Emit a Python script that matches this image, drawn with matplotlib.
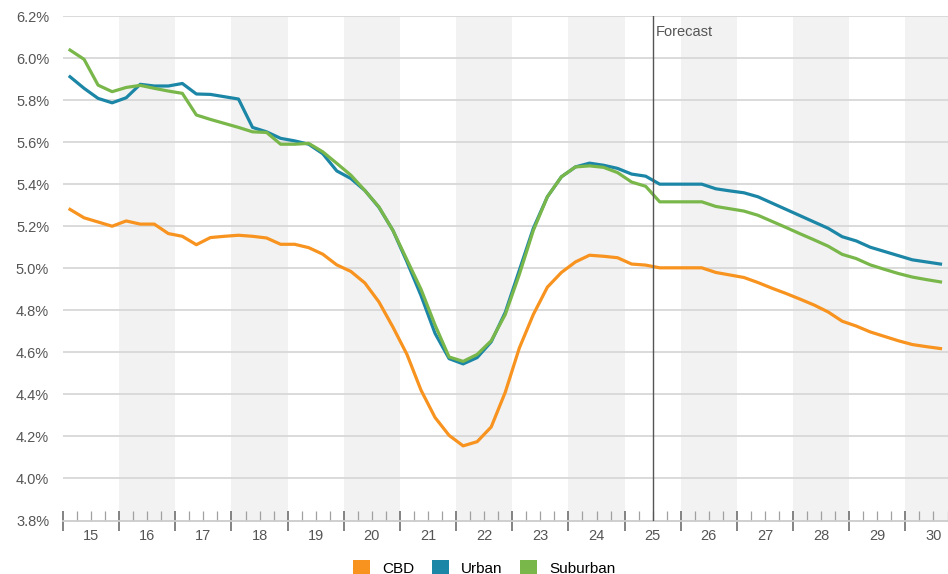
import numpy as np
import matplotlib
matplotlib.use("Agg")
import matplotlib.pyplot as plt
import matplotlib.transforms as mtransforms
from matplotlib.patches import Patch

plt.rcParams['font.family'] = ['Liberation Sans', 'DejaVu Sans']

# quarterly vacancy-type rates (%), 2015Q1 .. 2030Q3
cbd = [5.28, 5.24, 5.22, 5.20, 5.225, 5.21, 5.21, 5.165, 5.152, 5.112, 5.146, 5.152, 5.157, 5.152, 5.144, 5.114,
       5.114, 5.098, 5.067, 5.016, 4.985, 4.93, 4.84, 4.72, 4.59, 4.42, 4.29, 4.205, 4.155, 4.175, 4.245, 4.41,
       4.62, 4.78, 4.91, 4.98, 5.03, 5.062, 5.057, 5.05, 5.02, 5.015, 5.002, 5.002, 5.002, 5.002, 4.98, 4.968,
       4.956, 4.932, 4.905, 4.88, 4.853, 4.825, 4.792, 4.748, 4.725, 4.697, 4.676, 4.655, 4.637, 4.627, 4.618]
urban = [5.911, 5.856, 5.808, 5.787, 5.811, 5.875, 5.867, 5.867, 5.879, 5.829, 5.827, 5.816, 5.805, 5.670, 5.649, 5.618,
         5.606, 5.59, 5.545, 5.463, 5.427, 5.37, 5.29, 5.18, 5.03, 4.87, 4.69, 4.57, 4.545, 4.575, 4.65, 4.79,
         4.99, 5.19, 5.34, 5.435, 5.482, 5.50, 5.49, 5.475, 5.448, 5.438, 5.40, 5.40, 5.40, 5.40, 5.378, 5.368,
         5.359, 5.34, 5.31, 5.28, 5.25, 5.22, 5.19, 5.15, 5.13, 5.10, 5.08, 5.06, 5.04, 5.03, 5.02]
suburban = [6.038, 5.994, 5.871, 5.84, 5.86, 5.87, 5.856, 5.843, 5.832, 5.729, 5.708, 5.689, 5.67, 5.649, 5.646, 5.59,
            5.59, 5.594, 5.554, 5.499, 5.443, 5.37, 5.292, 5.18, 5.04, 4.90, 4.73, 4.578, 4.557, 4.59, 4.655, 4.78,
            4.97, 5.18, 5.34, 5.435, 5.482, 5.487, 5.48, 5.455, 5.41, 5.39, 5.316, 5.316, 5.316, 5.316, 5.294, 5.283,
            5.272, 5.252, 5.223, 5.194, 5.164, 5.135, 5.105, 5.066, 5.046, 5.016, 4.995, 4.975, 4.958, 4.946, 4.935]
years = list(range(2015, 2031))
year_labels = [str(y)[2:] for y in years]
forecast_start = 2025.5

x = 2015 + (np.arange(len(cbd)) + 0.5) / 4

fig = plt.figure(figsize=(9.48, 5.74), dpi=100)
ax = fig.add_axes([63 / 948, 53.5 / 574, 884.5 / 948, 504.5 / 574])

xmin, xmax = 2015, 2030.75
ax.set_xlim(xmin, xmax)
ax.set_ylim(3.8, 6.2)

# alternating year bands
for y in years[1::2]:
    ax.axvspan(y, y + 1, color='#f2f2f2', lw=0, zorder=0)

yt = np.round(np.arange(3.8, 6.21, 0.2), 1)
for v in yt[1:]:
    ax.axhline(v, color='#d8d8d8', lw=1.3, zorder=1)

ax.plot(x, cbd, color='#f7931e', lw=2.3, zorder=3, solid_joinstyle='round')
ax.plot(x, urban, color='#1c86a6', lw=2.3, zorder=4, solid_joinstyle='round')
ax.plot(x, suburban, color='#79b74b', lw=2.3, zorder=5, solid_joinstyle='round')

ax.axvline(forecast_start, color='#555555', lw=1.0, zorder=6)
ax.text(forecast_start + 0.05, 6.125, 'Forecast', fontsize=10.5, color='#555555', va='center', ha='left')

for s in ['top', 'right', 'left']:
    ax.spines[s].set_visible(False)
ax.spines['bottom'].set_color('#cccccc')
ax.spines['bottom'].set_linewidth(1.3)

ax.set_yticks(yt)
ax.set_yticklabels([f'{v:.1f}%' for v in yt], fontsize=10.5, color='#555555')
ax.tick_params(axis='y', length=0, pad=10)

ax.set_xticks(years)
ax.set_xticklabels([])
ax.set_xticks(np.arange(2015, 2030.76, 0.25), minor=True)
ax.tick_params(axis='x', which='major', direction='inout', length=14, width=1.3, color='#7a7a7a')
ax.tick_params(axis='x', which='minor', direction='in', length=7, width=0.9, color='#a0a0a0')

trans = mtransforms.blended_transform_factory(ax.transData, ax.transAxes)
for y, lab in zip(years, year_labels):
    ax.text(y + 0.5, -0.03, lab, transform=trans, ha='center', va='center',
            fontsize=10.5, color='#555555', clip_on=False)

handles = [Patch(facecolor='#f7931e', label='CBD'),
           Patch(facecolor='#1c86a6', label='Urban'),
           Patch(facecolor='#79b74b', label='Suburban')]
fig.legend(handles=handles, loc='center', bbox_to_anchor=(0.511, 6 / 574), ncol=3, frameon=False,
           fontsize=11, handlelength=1.1, handleheight=1.1, handletextpad=0.8, columnspacing=1.15)

fig.savefig('out.png', dpi=100)
